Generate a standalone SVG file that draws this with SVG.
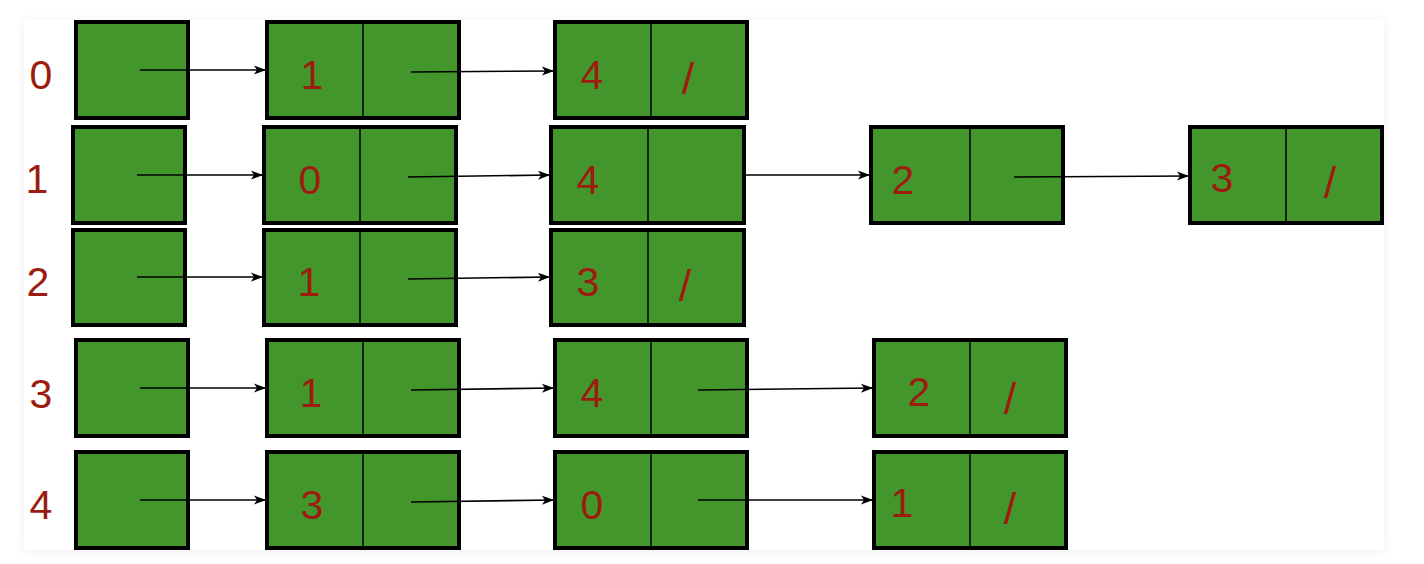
<svg xmlns="http://www.w3.org/2000/svg" width="1424" height="564" viewBox="0 0 1424 564">
<defs>
<filter id="sh" x="-5%" y="-5%" width="110%" height="110%">
<feDropShadow dx="0" dy="1" stdDeviation="4" flood-color="#000" flood-opacity="0.07"/>
</filter>
<marker id="ah" markerUnits="userSpaceOnUse" markerWidth="13" markerHeight="10" refX="12" refY="5" orient="auto">
<path d="M0,0.5 L12,5 L0,9.5 L3,5 Z" fill="#000"/>
</marker>
<clipPath id="card"><rect x="24" y="20" width="1360" height="530"/></clipPath>
</defs>
<style>
.box{fill:#43962b;stroke:#000;stroke-width:4}
.div{stroke:#000;stroke-width:1.5}
.t{font-family:"Liberation Sans",Arial,sans-serif;font-size:41px;fill:#9c1c10;text-anchor:middle}
.s{font-family:"Liberation Sans",Arial,sans-serif;font-size:45px;fill:#9c1c10;text-anchor:middle}
.c{stroke:#000;stroke-width:1.6;fill:none;marker-end:url(#ah)}
</style>
<rect width="1424" height="564" fill="#ffffff"/>
<rect x="24" y="20" width="1360" height="530" fill="#fff" filter="url(#sh)"/>
<g clip-path="url(#card)">
<g id="labels">
<text class="t" x="41" y="89">0</text>
<text class="t" x="37" y="193">1</text>
<text class="t" x="38" y="296">2</text>
<text class="t" x="41" y="408">3</text>
<text class="t" x="41" y="519">4</text>
</g>
<!-- Row 0 -->
<g id="head0"><rect class="box" x="76" y="22" width="112" height="96"/></g>
<g id="r0n1"><rect class="box" x="267" y="22" width="192" height="96"/><line class="div" x1="363" y1="22" x2="363" y2="118"/><text class="t" x="312" y="89">1</text></g>
<g id="r0n2"><rect class="box" x="555" y="22" width="192" height="96"/><line class="div" x1="651" y1="22" x2="651" y2="118"/><text class="t" x="592" y="89">4</text><text class="s" x="688" y="94">/</text></g>
<!-- Row 1 -->
<g id="head1"><rect class="box" x="73" y="127" width="112" height="96"/></g>
<g id="r1n1"><rect class="box" x="264" y="127" width="192" height="96"/><line class="div" x1="360" y1="127" x2="360" y2="223"/><text class="t" x="310" y="194">0</text></g>
<g id="r1n2"><rect class="box" x="551" y="127" width="193" height="96"/><line class="div" x1="648" y1="127" x2="648" y2="223"/><text class="t" x="588" y="194">4</text></g>
<g id="r1n3"><rect class="box" x="871" y="127" width="192" height="96"/><line class="div" x1="970" y1="127" x2="970" y2="223"/><text class="t" x="903" y="194">2</text></g>
<g id="r1n4"><rect class="box" x="1190" y="127" width="192" height="96"/><line class="div" x1="1286" y1="127" x2="1286" y2="223"/><text class="t" x="1222" y="192">3</text><text class="s" x="1330" y="198">/</text></g>
<!-- Row 2 -->
<g id="head2"><rect class="box" x="73" y="230" width="112" height="95"/></g>
<g id="r2n1"><rect class="box" x="264" y="230" width="192" height="95"/><line class="div" x1="360" y1="230" x2="360" y2="325"/><text class="t" x="309" y="296">1</text></g>
<g id="r2n2"><rect class="box" x="551" y="230" width="193" height="95"/><line class="div" x1="648" y1="230" x2="648" y2="325"/><text class="t" x="588" y="296">3</text><text class="s" x="685" y="301">/</text></g>
<!-- Row 3 -->
<g id="head3"><rect class="box" x="76" y="340" width="112" height="96"/></g>
<g id="r3n1"><rect class="box" x="267" y="340" width="192" height="96"/><line class="div" x1="363" y1="340" x2="363" y2="436"/><text class="t" x="311" y="407">1</text></g>
<g id="r3n2"><rect class="box" x="555" y="340" width="192" height="96"/><line class="div" x1="651" y1="340" x2="651" y2="436"/><text class="t" x="592" y="407">4</text></g>
<g id="r3n3"><rect class="box" x="874" y="340" width="192" height="96"/><line class="div" x1="970" y1="340" x2="970" y2="436"/><text class="t" x="919" y="406">2</text><text class="s" x="1010" y="414">/</text></g>
<!-- Row 4 -->
<g id="head4"><rect class="box" x="76" y="452" width="112" height="96"/></g>
<g id="r4n1"><rect class="box" x="267" y="452" width="192" height="96"/><line class="div" x1="363" y1="452" x2="363" y2="548"/><text class="t" x="312" y="519">3</text></g>
<g id="r4n2"><rect class="box" x="555" y="452" width="192" height="96"/><line class="div" x1="651" y1="452" x2="651" y2="548"/><text class="t" x="592" y="519">0</text></g>
<g id="r4n3"><rect class="box" x="874" y="452" width="192" height="96"/><line class="div" x1="970" y1="452" x2="970" y2="548"/><text class="t" x="902" y="517">1</text><text class="s" x="1010" y="524">/</text></g>
<g id="connectors">
<line class="c" x1="140" y1="70" x2="266" y2="70"/>
<line class="c" x1="411" y1="72" x2="554" y2="71"/>
<line class="c" x1="137" y1="175" x2="263" y2="175"/>
<line class="c" x1="408" y1="177" x2="550" y2="175"/>
<line class="c" x1="746" y1="175" x2="870" y2="175"/>
<line class="c" x1="1014" y1="177" x2="1189" y2="176"/>
<line class="c" x1="137" y1="277" x2="263" y2="277"/>
<line class="c" x1="408" y1="279" x2="550" y2="277"/>
<line class="c" x1="140" y1="388" x2="266" y2="388"/>
<line class="c" x1="411" y1="390" x2="554" y2="388"/>
<line class="c" x1="698" y1="390" x2="873" y2="388"/>
<line class="c" x1="140" y1="500" x2="266" y2="500"/>
<line class="c" x1="411" y1="502" x2="554" y2="500"/>
<line class="c" x1="698" y1="500" x2="873" y2="500"/>
</g>
</g>
</svg>
